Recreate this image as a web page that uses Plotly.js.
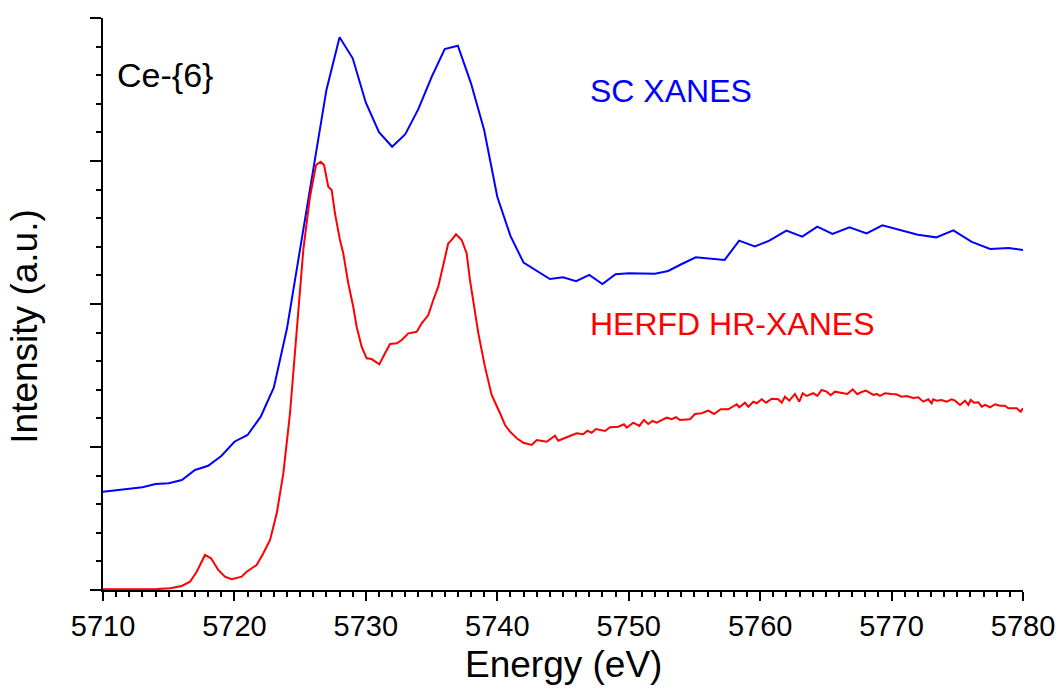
<!DOCTYPE html>
<html>
<head>
<meta charset="utf-8">
<script src="https://cdn.plot.ly/plotly-3.0.1.min.js"></script>
<style>
  html, body { margin: 0; padding: 0; background: #fff; }
  #chart { width: 1060px; height: 689px; }
</style>
</head>
<body>
<div id="chart"></div>
<script>
// SC XANES (blue)
const scEnergy = [5710,5711,5712,5713,5714,5715,5716,5717,5718,5719,5720,5721,5722,5723,5724,5725,5726,5727,5728,5729,5730,5731,5732,5733,5734,5735,5736,5737,5738,5739,5740,5741,5742,5744,5745,5746,5747,5748,5749,5750,5752,5753,5754,5755.1,5757.3,5758.4,5759.6,5760.7,5762.0,5763.2,5764.35,5765.5,5766.8,5768.1,5769.3,5772.0,5773.4,5774.7,5776.1,5777.5,5778.9,5780.0];
const scIntensity = [0.687,0.699,0.711,0.718,0.741,0.746,0.769,0.839,0.869,0.937,1.037,1.084,1.212,1.417,1.830,2.378,2.951,3.497,3.865,3.718,3.408,3.201,3.100,3.187,3.364,3.587,3.783,3.806,3.543,3.217,2.750,2.476,2.289,2.175,2.187,2.159,2.203,2.140,2.208,2.215,2.212,2.231,2.278,2.327,2.308,2.443,2.403,2.443,2.513,2.471,2.541,2.490,2.536,2.494,2.550,2.485,2.466,2.515,2.434,2.385,2.392,2.378];

// HERFD HR-XANES (red)
const herfdEnergy = [5710.0,5712.0,5714.09,5715.1,5715.99,5716.62,5717.13,5717.76,5718.22,5718.77,5719.28,5719.79,5720.55,5720.93,5721.69,5722.20,5722.71,5723.22,5723.72,5724.23,5724.74,5725.24,5725.75,5726.21,5726.56,5726.82,5727.14,5727.40,5727.65,5728.03,5728.28,5728.66,5729.04,5729.30,5729.68,5730.06,5730.44,5731.02,5731.46,5731.84,5732.35,5732.73,5733.23,5733.87,5734.25,5734.75,5735.13,5735.51,5735.89,5736.27,5736.53,5736.86,5737.29,5737.67,5737.92,5738.18,5738.56,5739.06,5739.57,
5740.21,5740.59,5740.97,5741.48,5741.98,5742.62,5743.00,5743.76,5744.39,5744.64,5745.28,5746.04,5746.54,5746.85,5747.18,5747.51,5748.20,5748.58,5749.21,5749.64,5749.85,5750.35,5750.81,5751.16,5751.49,5751.82,5752.13,5752.89,5753.27,5753.60,5753.90,5754.66,5755.04,5755.55,5756.06,5756.49,5757.00,5757.58,5758.22,5758.41,5758.85,5759.10,5759.48,5759.74,5760.12,5760.45,5760.88,5761.38,5761.64,5761.89,5762.22,5762.65,5762.98,5763.24,5763.54,5763.79,5764.04,5764.35,5764.68,5765.06,5765.37,5765.69,5766.08,5766.33,5766.63,5767.04,5767.39,5767.73,5768.05,5768.61,5768.87,5769.12,5769.50,5770.01,5770.34,5770.77,5771.15,5771.65,5772.03,5772.41,5772.79,5773.05,5773.17,5773.43,5773.81,5774.19,5774.57,5774.83,5775.21,5775.59,5775.84,5776.02,5776.27,5776.60,5776.86,5777.11,5777.49,5777.87,5778.25,5778.63,5778.88,5779.52,5779.82,5780.0];
const herfdIntensity = [0.005,0.004,0.007,0.012,0.028,0.058,0.128,0.245,0.222,0.140,0.093,0.075,0.093,0.128,0.175,0.257,0.350,0.536,0.816,1.236,1.841,2.378,2.750,2.972,2.995,2.972,2.820,2.797,2.634,2.448,2.355,2.145,1.981,1.841,1.701,1.620,1.615,1.578,1.655,1.720,1.725,1.748,1.795,1.806,1.865,1.923,2.028,2.121,2.273,2.424,2.448,2.487,2.448,2.355,2.168,2.005,1.795,1.562,1.364,
1.236,1.154,1.107,1.061,1.030,1.014,1.049,1.037,1.079,1.044,1.068,1.096,1.089,1.114,1.100,1.126,1.112,1.138,1.142,1.159,1.135,1.170,1.147,1.189,1.161,1.182,1.170,1.205,1.194,1.208,1.189,1.194,1.231,1.236,1.254,1.231,1.264,1.264,1.299,1.278,1.310,1.282,1.317,1.306,1.334,1.310,1.338,1.334,1.310,1.352,1.324,1.371,1.317,1.376,1.357,1.364,1.376,1.357,1.399,1.387,1.362,1.387,1.380,1.376,1.371,1.403,1.369,1.385,1.394,1.364,1.371,1.357,1.376,1.371,1.369,1.352,1.357,1.343,1.348,1.317,1.334,1.306,1.334,1.324,1.329,1.317,1.334,1.324,1.294,1.324,1.294,1.329,1.310,1.313,1.282,1.294,1.278,1.299,1.289,1.289,1.271,1.271,1.247,1.271];

const xTickVals = [5710,5720,5730,5740,5750,5760,5770,5780];
const xTickText = ['5710','5720','5730','5740','5750','5760','5770','5780'];

const FONT = 'Liberation Sans, Arial, sans-serif';

const traces = [
  { x: scEnergy, y: scIntensity, type: 'scatter', mode: 'lines',
    line: { color: '#0000FF', width: 2 }, name: 'SC XANES', hoverinfo: 'skip' },
  { x: herfdEnergy, y: herfdIntensity, type: 'scatter', mode: 'lines',
    line: { color: '#FF0000', width: 2 }, name: 'HERFD HR-XANES', hoverinfo: 'skip' }
];

const layout = {
  width: 1060, height: 689,
  margin: { l: 103, r: 37, t: 18, b: 99 },
  paper_bgcolor: '#fff', plot_bgcolor: '#fff',
  showlegend: false,
  font: { family: FONT, color: '#000' },
  xaxis: {
    range: [5710, 5780], showgrid: false, zeroline: false,
    showline: true, linecolor: '#000', linewidth: 2,
    ticks: 'outside', ticklen: 9, tickwidth: 2, tickcolor: '#000',
    tickvals: xTickVals, ticktext: xTickText,
    tickfont: { family: FONT, size: 29, color: '#000' },
    minor: { dtick: 1, tick0: 5710, ticks: 'outside', ticklen: 5, tickwidth: 2, tickcolor: '#000', showgrid: false }
  },
  yaxis: {
    range: [0, 4], showgrid: false, zeroline: false,
    showline: true, linecolor: '#000', linewidth: 2,
    ticks: 'outside', ticklen: 11, tickwidth: 2, tickcolor: '#000',
    dtick: 1, tick0: 0, showticklabels: false,
    minor: { dtick: 0.2, tick0: 0, ticks: 'outside', ticklen: 5, tickwidth: 2, tickcolor: '#000', showgrid: false }
  },
  annotations: [
    { text: 'Energy (eV)', xref: 'paper', yref: 'paper', x: 0.5, y: -0.13, xanchor: 'center', yanchor: 'middle',
      showarrow: false, font: { family: FONT, size: 37, color: '#000' } },
    { text: 'Intensity (a.u.)', xref: 'paper', yref: 'paper', x: -0.085, y: 0.46, xanchor: 'center', yanchor: 'middle',
      textangle: -90, showarrow: false, font: { family: FONT, size: 37, color: '#000' } },
    { text: 'Ce-{6}', xref: 'paper', yref: 'paper', x: 0.0125, y: 0.9, xanchor: 'left', yanchor: 'middle',
      showarrow: false, font: { family: FONT, size: 34, color: '#000' } },
    { text: 'SC XANES', xref: 'paper', yref: 'paper', x: 0.5272, y: 0.872, xanchor: 'left', yanchor: 'middle',
      showarrow: false, font: { family: FONT, size: 32, color: '#0000FF' } },
    { text: 'HERFD HR-XANES', xref: 'paper', yref: 'paper', x: 0.5272, y: 0.465, xanchor: 'left', yanchor: 'middle',
      showarrow: false, font: { family: FONT, size: 32, color: '#FF0000' } }
  ]
};

Plotly.newPlot('chart', traces, layout, { staticPlot: true, displayModeBar: false });
</script>
</body>
</html>
